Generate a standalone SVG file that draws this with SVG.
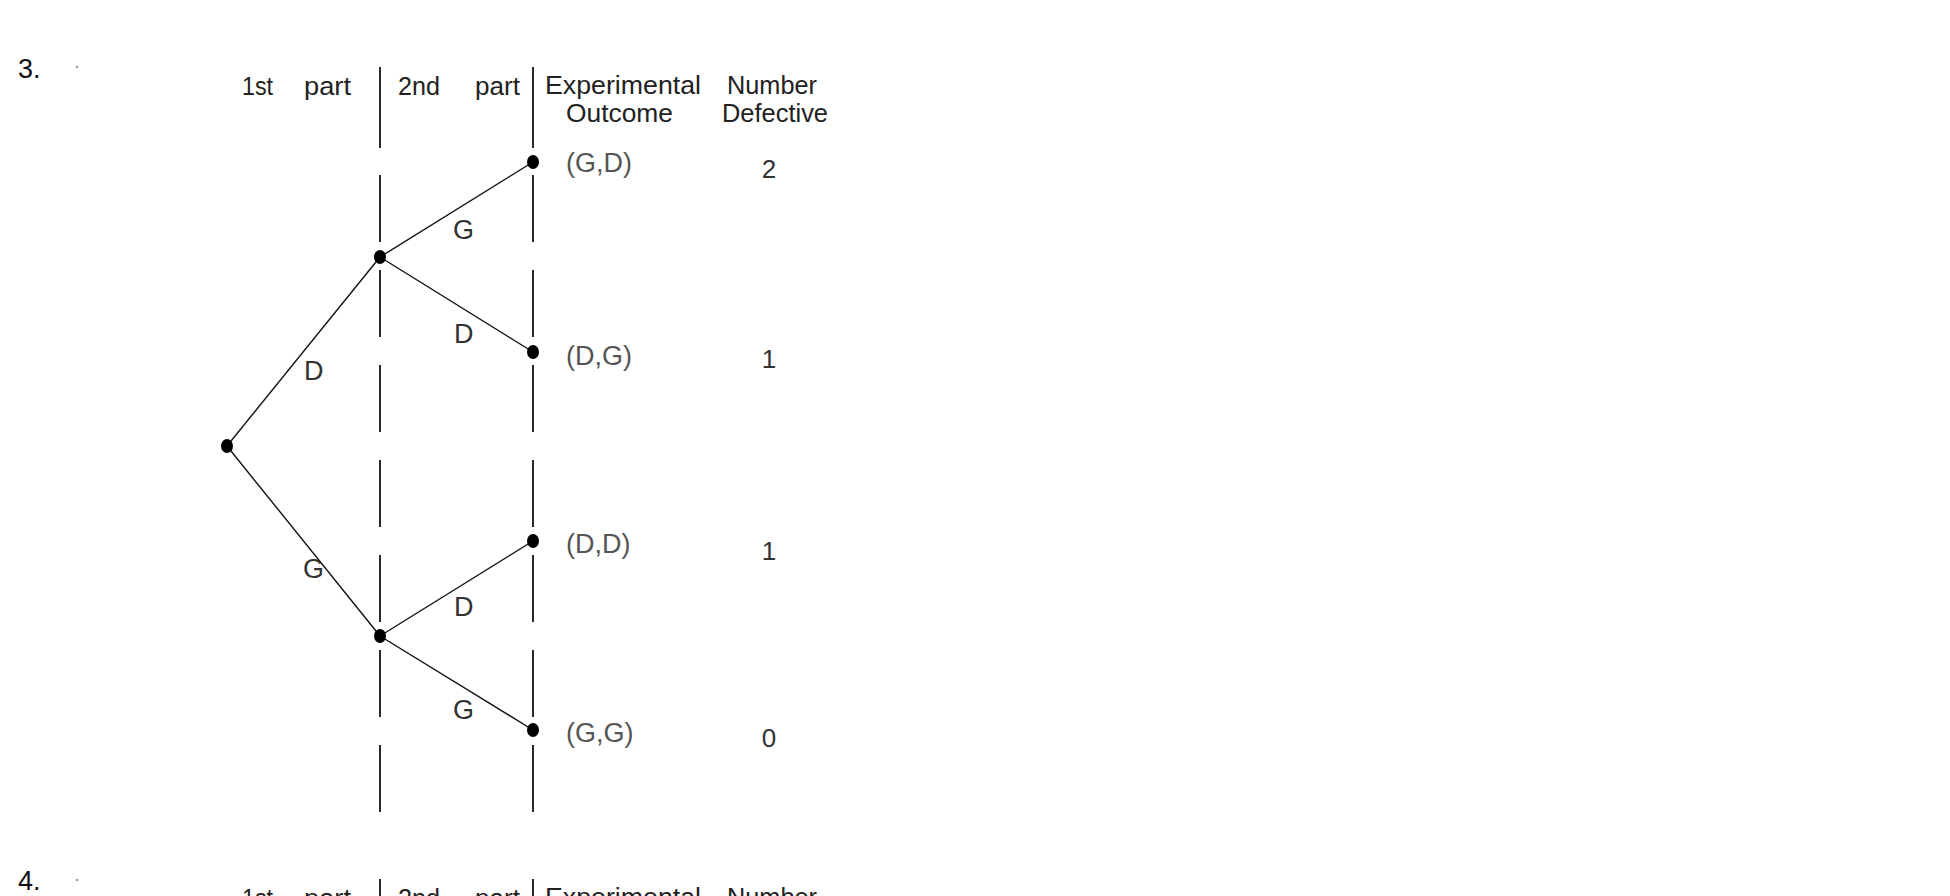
<svg xmlns="http://www.w3.org/2000/svg" width="1950" height="896" viewBox="0 0 1950 896">
<style>
text{font-family:"Liberation Sans",Arial,sans-serif;}
.num{font-size:27px;fill:#111;}
.hdr{font-size:25px;fill:#222;}
.out{font-size:27px;fill:#555;}
.cnt{font-size:26px;fill:#333;text-anchor:middle;}
.lbl{font-size:27px;fill:#333;}
.sep{stroke:#111;stroke-width:1.8;fill:none;}
.dash{stroke:#111;stroke-width:1.8;fill:none;stroke-dasharray:67 28;}
.br{stroke:#111;stroke-width:1.4;fill:none;}
.dot{fill:#000;}
.speck{fill:#999;}
</style>
<rect width="1950" height="896" fill="#fff"/>

<g id="problem3">
  <text class="num" x="18" y="78">3.</text>
  <circle class="speck" cx="77" cy="67" r="1.2"/>
  <g id="header3">
    <text class="hdr" x="242" y="95" textLength="31" lengthAdjust="spacingAndGlyphs">1st</text>
    <text class="hdr" x="304" y="95" textLength="47" lengthAdjust="spacingAndGlyphs">part</text>
    <text class="hdr" x="398" y="95" textLength="42" lengthAdjust="spacingAndGlyphs">2nd</text>
    <text class="hdr" x="475" y="95" textLength="45" lengthAdjust="spacingAndGlyphs">part</text>
    <text class="hdr" x="545" y="94" textLength="156" lengthAdjust="spacingAndGlyphs">Experimental</text>
    <text class="hdr" x="566" y="122" textLength="107" lengthAdjust="spacingAndGlyphs">Outcome</text>
    <text class="hdr" x="727" y="94" textLength="90" lengthAdjust="spacingAndGlyphs">Number</text>
    <text class="hdr" x="722" y="122" textLength="106" lengthAdjust="spacingAndGlyphs">Defective</text>
  </g>
  <g id="separators3">
    <line class="sep" x1="380" y1="67" x2="380" y2="148"/>
    <line class="dash" x1="380" y1="175" x2="380" y2="812"/>
    <line class="sep" x1="533" y1="67" x2="533" y2="148"/>
    <line class="dash" x1="533" y1="175" x2="533" y2="812"/>
  </g>
  <g id="connectors">
    <line class="br" x1="227" y1="446" x2="380" y2="257"/>
    <line class="br" x1="227" y1="446" x2="380" y2="636"/>
    <line class="br" x1="380" y1="257" x2="533" y2="162"/>
    <line class="br" x1="380" y1="257" x2="533" y2="352"/>
    <line class="br" x1="380" y1="636" x2="533" y2="541"/>
    <line class="br" x1="380" y1="636" x2="533" y2="730"/>
    <text class="lbl" x="304" y="380">D</text>
    <text class="lbl" x="303" y="578">G</text>
    <text class="lbl" x="453" y="239">G</text>
    <text class="lbl" x="454" y="343">D</text>
    <text class="lbl" x="454" y="616">D</text>
    <text class="lbl" x="453" y="719">G</text>
  </g>
  <g id="root"><ellipse class="dot" cx="227" cy="446" rx="6" ry="7"/></g>
  <g id="mid-D"><ellipse class="dot" cx="380" cy="257" rx="6" ry="7"/></g>
  <g id="mid-G"><ellipse class="dot" cx="380" cy="636" rx="6" ry="7"/></g>
  <g id="leaf-GD">
    <ellipse class="dot" cx="533" cy="162" rx="6" ry="7"/>
    <text class="out" x="566" y="172">(G,D)</text>
    <text class="cnt" x="769" y="178">2</text>
  </g>
  <g id="leaf-DG">
    <ellipse class="dot" cx="533" cy="352" rx="6" ry="7"/>
    <text class="out" x="566" y="365">(D,G)</text>
    <text class="cnt" x="769" y="368">1</text>
  </g>
  <g id="leaf-DD">
    <ellipse class="dot" cx="533" cy="541" rx="6" ry="7"/>
    <text class="out" x="566" y="553">(D,D)</text>
    <text class="cnt" x="769" y="560">1</text>
  </g>
  <g id="leaf-GG">
    <ellipse class="dot" cx="533" cy="730" rx="6" ry="7"/>
    <text class="out" x="566" y="742">(G,G)</text>
    <text class="cnt" x="769" y="747">0</text>
  </g>
</g>

<g id="problem4">
  <text class="num" x="18" y="890">4.</text>
  <circle class="speck" cx="77" cy="880" r="1.2"/>
  <g id="header4">
    <text class="hdr" x="242" y="907" textLength="31" lengthAdjust="spacingAndGlyphs">1st</text>
    <text class="hdr" x="304" y="907" textLength="47" lengthAdjust="spacingAndGlyphs">part</text>
    <text class="hdr" x="398" y="907" textLength="42" lengthAdjust="spacingAndGlyphs">2nd</text>
    <text class="hdr" x="475" y="907" textLength="45" lengthAdjust="spacingAndGlyphs">part</text>
    <text class="hdr" x="545" y="906" textLength="156" lengthAdjust="spacingAndGlyphs">Experimental</text>
    <text class="hdr" x="727" y="906" textLength="90" lengthAdjust="spacingAndGlyphs">Number</text>
  </g>
  <g id="separators4">
    <line class="sep" x1="380" y1="879" x2="380" y2="896"/>
    <line class="sep" x1="533" y1="879" x2="533" y2="896"/>
  </g>
</g>
</svg>
